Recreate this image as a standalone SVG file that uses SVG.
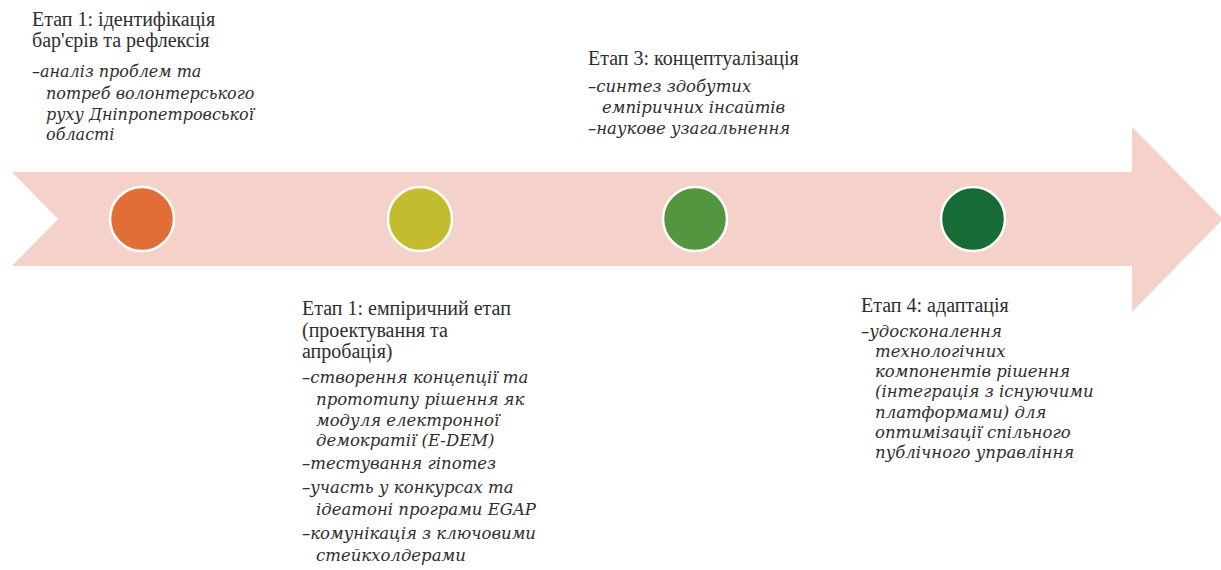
<svg xmlns="http://www.w3.org/2000/svg" width="1221" height="570" viewBox="0 0 1221 570">
<style>
.t{font-family:"Liberation Serif",serif;font-size:20px;fill:#2e2e2e}
.b{font-family:"DejaVu Serif",serif;font-size:16.5px;font-style:italic;fill:#2e2e2e}
#node1 .b{font-size:16px}
.dot{stroke:#ffffff;stroke-width:2.5}
</style>
<rect width="1221" height="570" fill="#ffffff"/>
<g id="arrow">
<path d="M12,172 L1132,172 L1132,127 L1223,219 L1132,312 L1132,266 L12,266 L58,219 Z" fill="#f4d2ca"/>
</g>
<g id="node1">
<circle class="dot" cx="142" cy="219" r="32" fill="#e06e36"/>
<text class="t" x="32" y="26">Етап 1: ідентифікація</text>
<text class="t" x="32" y="47">бар'єрів та рефлексія</text>
<text class="b" x="32" y="77">–аналіз проблем та</text>
<text class="b" x="46" y="99">потреб волонтерського</text>
<text class="b" x="46" y="120">руху Дніпропетровської</text>
<text class="b" x="46" y="140">області</text>
</g>
<g id="node2">
<circle class="dot" cx="420" cy="219" r="32" fill="#c4bc2f"/>
<text class="t" x="302" y="315">Етап 1: емпіричний етап</text>
<text class="t" x="302" y="337">(проектування та</text>
<text class="t" x="302" y="358">апробація)</text>
<text class="b" x="302" y="383">–створення концепції та</text>
<text class="b" x="316" y="405">прототипу рішення як</text>
<text class="b" x="316" y="426">модуля електронної</text>
<text class="b" x="316" y="446">демократії (E-DEM)</text>
<text class="b" x="302" y="469">–тестування гіпотез</text>
<text class="b" x="302" y="493">–участь у конкурсах та</text>
<text class="b" x="316" y="515">ідеатоні програми EGAP</text>
<text class="b" x="302" y="539">–комунікація з ключовими</text>
<text class="b" x="316" y="561">стейкхолдерами</text>
</g>
<g id="node3">
<circle class="dot" cx="695" cy="219" r="32" fill="#54963f"/>
<text class="t" x="588" y="65">Етап 3: концептуалізація</text>
<text class="b" x="588" y="92">–синтез здобутих</text>
<text class="b" x="602" y="113">емпіричних інсайтів</text>
<text class="b" x="588" y="134">–наукове узагальнення</text>
</g>
<g id="node4">
<circle class="dot" cx="973" cy="219" r="32" fill="#176b37"/>
<text class="t" x="861" y="312">Етап 4: адаптація</text>
<text class="b" x="861" y="337">–удосконалення</text>
<text class="b" x="875" y="357">технологічних</text>
<text class="b" x="875" y="377">компонентів рішення</text>
<text class="b" x="875" y="397">(інтеграція з існуючими</text>
<text class="b" x="875" y="418">платформами) для</text>
<text class="b" x="875" y="438">оптимізації спільного</text>
<text class="b" x="875" y="458">публічного управління</text>
</g>
<g id="connectors"></g>
</svg>
